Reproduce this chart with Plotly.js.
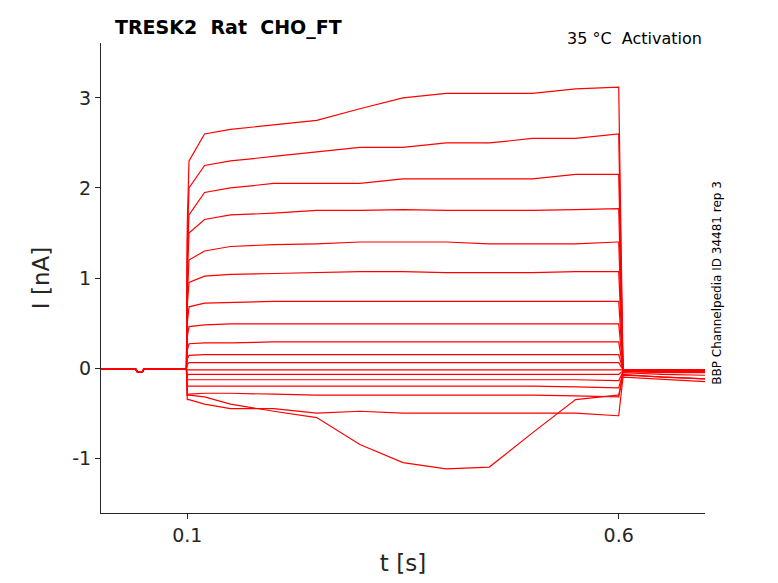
<!DOCTYPE html>
<html>
<head>
<meta charset="utf-8">
<script src="https://cdn.plot.ly/plotly-3.0.1.min.js"></script>
<style>body{margin:0}#plot{width:778px;height:583px}</style>
</head>
<body>
<div id="plot"></div>
<script>
// sample times (s): baseline, pulse, tail
const preTimes = [0, 0.04, 0.042, 0.048, 0.05, 0.099];
const preValues = [-0.01, -0.01, -0.04, -0.04, -0.01, -0.01];
const pulseTimes = [0.1, 0.102, 0.12, 0.15, 0.2, 0.25, 0.3, 0.35, 0.4, 0.45, 0.5, 0.55, 0.599];
const tailTimes = [0.6, 0.605, 0.65, 0.7];
const yTickVals = [-1, 0, 1, 2, 3];
const yTickText = ["-1", "0", "1", "2", "3"];

// current (nA) during the pulse, one row per sweep
const pulseCurrents = [
  [1.6, 2.3, 2.6, 2.65, 2.7, 2.75, 2.88, 3.0, 3.05, 3.05, 3.05, 3.1, 3.12],
  [1.4, 2.0, 2.25, 2.3, 2.35, 2.4, 2.45, 2.45, 2.5, 2.5, 2.55, 2.55, 2.6],
  [1.2, 1.7, 1.95, 2.0, 2.05, 2.05, 2.05, 2.1, 2.1, 2.1, 2.1, 2.15, 2.15],
  [1.0, 1.5, 1.65, 1.7, 1.72, 1.75, 1.75, 1.76, 1.75, 1.75, 1.75, 1.76, 1.77],
  [0.8, 1.2, 1.3, 1.35, 1.37, 1.38, 1.4, 1.4, 1.4, 1.38, 1.38, 1.38, 1.4],
  [0.7, 0.95, 1.02, 1.04, 1.05, 1.06, 1.07, 1.07, 1.06, 1.06, 1.06, 1.07, 1.07],
  [0.5, 0.68, 0.72, 0.73, 0.74, 0.74, 0.74, 0.74, 0.74, 0.74, 0.74, 0.74, 0.74],
  [0.35, 0.46, 0.48, 0.49, 0.49, 0.49, 0.49, 0.49, 0.49, 0.49, 0.49, 0.49, 0.49],
  [0.2, 0.27, 0.28, 0.28, 0.29, 0.29, 0.29, 0.29, 0.29, 0.29, 0.29, 0.29, 0.29],
  [0.1, 0.14, 0.15, 0.15, 0.15, 0.15, 0.15, 0.15, 0.15, 0.15, 0.15, 0.15, 0.15],
  [0.04, 0.06, 0.06, 0.06, 0.06, 0.06, 0.06, 0.06, 0.06, 0.06, 0.06, 0.06, 0.06],
  [-0.02, -0.02, -0.02, -0.02, -0.02, -0.02, -0.02, -0.02, -0.02, -0.02, -0.02, -0.02, -0.02],
  [-0.08, -0.07, -0.07, -0.07, -0.07, -0.07, -0.07, -0.07, -0.07, -0.07, -0.07, -0.07, -0.07],
  [-0.13, -0.13, -0.13, -0.13, -0.13, -0.13, -0.13, -0.13, -0.13, -0.13, -0.13, -0.13, -0.14],
  [-0.2, -0.2, -0.2, -0.2, -0.2, -0.2, -0.2, -0.2, -0.2, -0.2, -0.2, -0.21, -0.22],
  [-0.3, -0.29, -0.28, -0.28, -0.29, -0.3, -0.3, -0.3, -0.3, -0.3, -0.3, -0.31, -0.32],
  [-0.35, -0.35, -0.4, -0.45, -0.45, -0.5, -0.48, -0.5, -0.5, -0.5, -0.5, -0.5, -0.53],
  [-0.3, -0.3, -0.32, -0.4, -0.48, -0.55, -0.85, -1.05, -1.12, -1.1, -0.72, -0.35, -0.3],
];
// current (nA) after the pulse
const tailCurrents = [
  [0, -0.03, -0.03, -0.03], [0, -0.03, -0.03, -0.03], [0, -0.03, -0.03, -0.03],
  [0, -0.03, -0.03, -0.03], [0, -0.03, -0.03, -0.03], [0, -0.03, -0.03, -0.03],
  [0, -0.02, -0.02, -0.02], [0, -0.02, -0.02, -0.02], [0, -0.02, -0.02, -0.02],
  [0, -0.02, -0.02, -0.02], [0, -0.02, -0.02, -0.02], [0, -0.02, -0.02, -0.02],
  [0, -0.03, -0.04, -0.04], [0, -0.04, -0.05, -0.05], [0, -0.05, -0.07, -0.08],
  [0, -0.07, -0.1, -0.12], [0, -0.1, -0.12, -0.15], [0, -0.08, -0.1, -0.12],
];

const traces = pulseCurrents.map((pulse, i) => ({
  type: "scatter",
  mode: "lines",
  x: [...preTimes, ...pulseTimes, ...tailTimes],
  y: [...preValues, ...pulse, pulse[pulse.length - 1], ...tailCurrents[i].slice(1)],
  line: { color: "#ff0000", width: 1.2 },
  hoverinfo: "skip",
  showlegend: false,
}));

const layout = {
  width: 778,
  height: 583,
  paper_bgcolor: "#ffffff",
  plot_bgcolor: "#ffffff",
  font: { family: "DejaVu Sans, sans-serif", size: 18, color: "#262626" },
  margin: { l: 101, r: 73, t: 43, b: 70 },
  xaxis: {
    range: [0, 0.7],
    tickvals: [0.1, 0.6],
    ticktext: ["0.1", "0.6"],
    tickfont: { size: 19 },
    ticks: "outside",
    ticklen: 5,
    tickcolor: "#262626",
    showline: true,
    linecolor: "#262626",
    showgrid: false,
    zeroline: false,
    title: { text: "t [s]", font: { size: 23 }, standoff: 10 },
  },
  yaxis: {
    range: [-1.61, 3.61],
    tickvals: yTickVals,
    ticktext: yTickText,
    tickfont: { size: 19 },
    ticks: "outside",
    ticklen: 5,
    tickcolor: "#262626",
    showline: true,
    linecolor: "#262626",
    showgrid: false,
    zeroline: false,
    title: { text: "I [nA]", font: { size: 23 }, standoff: 16 },
  },
  annotations: [
    { text: "<b>TRESK2  Rat  CHO_FT</b>", xref: "paper", yref: "paper", x: 0.02, y: 1.005,
      xanchor: "left", yanchor: "bottom", showarrow: false, font: { size: 19, color: "#000" } },
    { text: "35 °C  Activation", xref: "paper", yref: "paper", x: 0.998, y: 0.985,
      xanchor: "right", yanchor: "bottom", showarrow: false, font: { size: 16, color: "#000" } },
    { text: "BBP Channelpedia ID 34481 rep 3", xref: "paper", yref: "paper", x: 1.005, y: 0.49,
      xanchor: "left", yanchor: "middle", textangle: -90, showarrow: false, font: { size: 12, color: "#000" } },
  ],
};

Plotly.newPlot("plot", traces, layout, { displayModeBar: false, staticPlot: true });
</script>
</body>
</html>
